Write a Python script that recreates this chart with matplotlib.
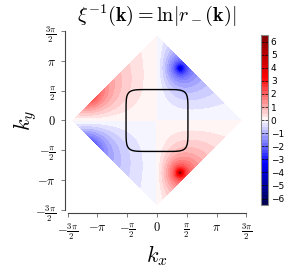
import numpy as np
import matplotlib
matplotlib.use("Agg")
import matplotlib.pyplot as plt

plt.rcParams['mathtext.fontset'] = 'cm'

# --- data ---
bz_half_diag = np.sqrt(2) * np.pi          # diamond corners at +-sqrt(2)*pi
right_spots_k = [(1.22, 2.75), (1.22, -2.75)]   # blue (sink), red (source)
right_amp = 1.2
left_spots_k = [(-3.7, 1.45), (-3.7, -1.45)]    # red, blue (outside the zone)
left_amp = 1.35
curve_half_width = 1.63
curve_exponent = 7
vmin, vmax = -6.5, 6.5
cbar_ticks = [-6, -5, -4, -3, -2, -1, 0, 1, 2, 3, 4, 5, 6]
tick_pos = [-1.5 * np.pi, -np.pi, -0.5 * np.pi, 0, 0.5 * np.pi, np.pi, 1.5 * np.pi]
tick_labels = [r'$-\frac{3\pi}{2}$', r'$-\pi$', r'$-\frac{\pi}{2}$', r'$0$',
               r'$\frac{\pi}{2}$', r'$\pi$', r'$\frac{3\pi}{2}$']

# grid
k = np.linspace(-4.6, 4.6, 461)
KX, KY = np.meshgrid(k, k)


def lnd(p):
    return np.log(np.hypot(KX - p[0], KY - p[1]))


def mirror(p):
    return (-p[0], p[1])


# right half: point singularities, left half: broad maxima at the edge
pb, pr = right_spots_k
f_right = right_amp * (lnd(pb) - lnd(pr) - lnd(mirror(pb)) + lnd(mirror(pr)))
qr, qb = left_spots_k
f_left = left_amp * (-lnd(qr) + lnd(qb) + lnd(mirror(qr)) - lnd(mirror(qb)))
field = np.where(KX >= 0, f_right, f_left)
field = np.clip(field, vmin + 0.01, vmax - 0.01)
field[np.abs(KX) + np.abs(KY) > bz_half_diag] = np.nan

fig = plt.figure(figsize=(2.91, 2.72), dpi=100)
ax = fig.add_axes([0.22, 0.217, 0.639, 0.68])
cax = fig.add_axes([0.897, 0.246, 0.024, 0.625])

levels = np.linspace(vmin, vmax, 53)
cs = ax.contourf(KX, KY, field, levels=levels, cmap='seismic', vmin=vmin, vmax=vmax)

sq = np.abs(KX) ** curve_exponent + np.abs(KY) ** curve_exponent
ax.contour(KX, KY, sq, levels=[curve_half_width ** curve_exponent],
           colors='black', linewidths=1.0)

lim = 1.5 * np.pi + 0.16
ax.set_xlim(-lim, lim)
ax.set_ylim(-lim, lim)
ax.set_aspect('equal')
ax.set_xticks(tick_pos)
ax.set_xticklabels(tick_labels, fontsize=9)
ax.set_yticks(tick_pos)
ax.set_yticklabels(tick_labels, fontsize=9)
for s in ['top', 'right']:
    ax.spines[s].set_visible(False)
for s in ['left', 'bottom']:
    ax.spines[s].set_bounds(-1.5 * np.pi, 1.5 * np.pi)
    ax.spines[s].set_color('#444444')
ax.tick_params(direction='out', length=3, width=0.6, color='#666666', pad=3)

ax.set_xlabel(r'$k_x$', fontsize=16, labelpad=1)
ax.set_ylabel(r'$k_y$', fontsize=16, labelpad=-3)
ax.set_title(r'$\xi^{-1}(\mathbf{k}) = \ln|r_-(\mathbf{k})|$', fontsize=14.5, pad=1)

cb = fig.colorbar(cs, cax=cax, ticks=cbar_ticks)
cb.outline.set_edgecolor('#888888')
cb.outline.set_linewidth(0.8)
cax.tick_params(labelsize=6.5, direction='in', length=2, width=0.5,
                left=True, right=True, pad=2)

fig.savefig('out.png', dpi=100)
